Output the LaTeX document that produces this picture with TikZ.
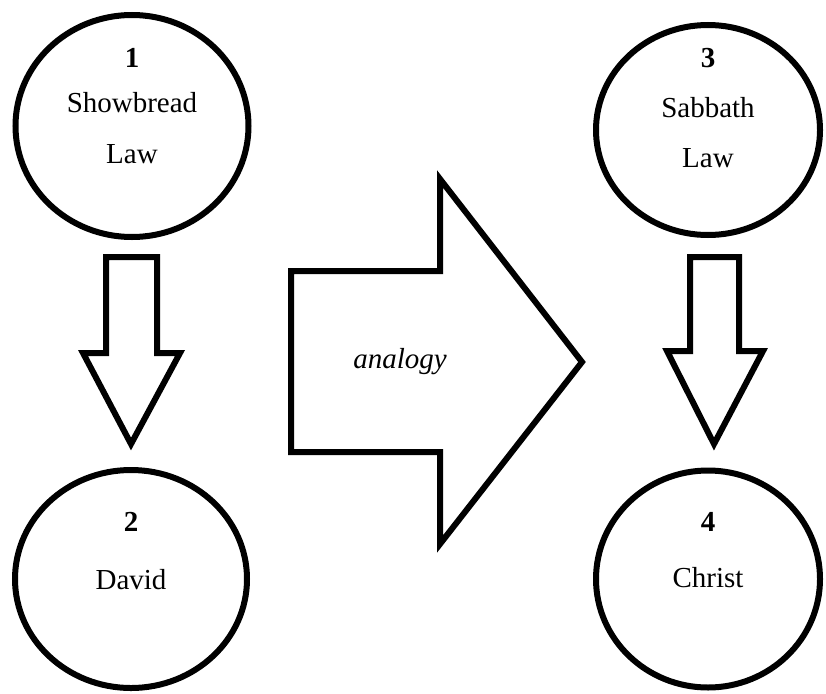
\documentclass[tikz,border=0pt]{standalone}
\usepackage{fontspec}
\setmainfont{Liberation Serif}
\usetikzlibrary{shapes.geometric}

\begin{document}
\begin{tikzpicture}[
      x=1pt, y=-1pt,
      every node/.style={font=\fontsize{29}{34}\selectfont},
      bubble/.style={draw, ellipse, line width=6pt, inner sep=0pt},
      blockarrow/.style={draw, line width=6pt, line join=miter, fill=white},
    ]
      \useasboundingbox (0,0) rectangle (826,693);
      % the four circles
      \node[bubble, minimum width=233pt, minimum height=222pt] (law1) at (132,126) {};
      \node[bubble, minimum width=232pt, minimum height=218pt] (david) at (131,579) {};
      \node[bubble, minimum width=224pt, minimum height=210pt] (law3) at (708,130) {};
      \node[bubble, minimum width=224pt, minimum height=217pt] (christ) at (708,579) {};
      % their texts
      \node (n1) at (132,58) {\textbf{1}};
      \node (t1a) at (132,103) {Showbread};
      \node (t1b) at (132,154) {Law};
      \node (n2) at (131,522) {\textbf{2}};
      \node (t2) at (131,580) {David};
      \node (n3) at (708,58) {\textbf{3}};
      \node (t3a) at (708,108) {Sabbath};
      \node (t3b) at (708,158) {Law};
      \node (n4) at (708,522) {\textbf{4}};
      \node (t4) at (708,578) {Christ};
      % block arrows
      \draw[blockarrow] (106,257) -- (157,257) -- (157,353) -- (180,353)
        -- (131,444) -- (83,353) -- (106,353) -- cycle;
      \draw[blockarrow] (690,257) -- (739,257) -- (739,351) -- (763,351)
        -- (714,444) -- (667,351) -- (690,351) -- cycle;
      \draw[blockarrow] (291,271) -- (440,271) -- (440,179) -- (582,362)
        -- (440,544) -- (440,452) -- (291,452) -- cycle;
      \node (analogy) at (400,362) {\itshape analogy};
    \end{tikzpicture}
\end{document}
